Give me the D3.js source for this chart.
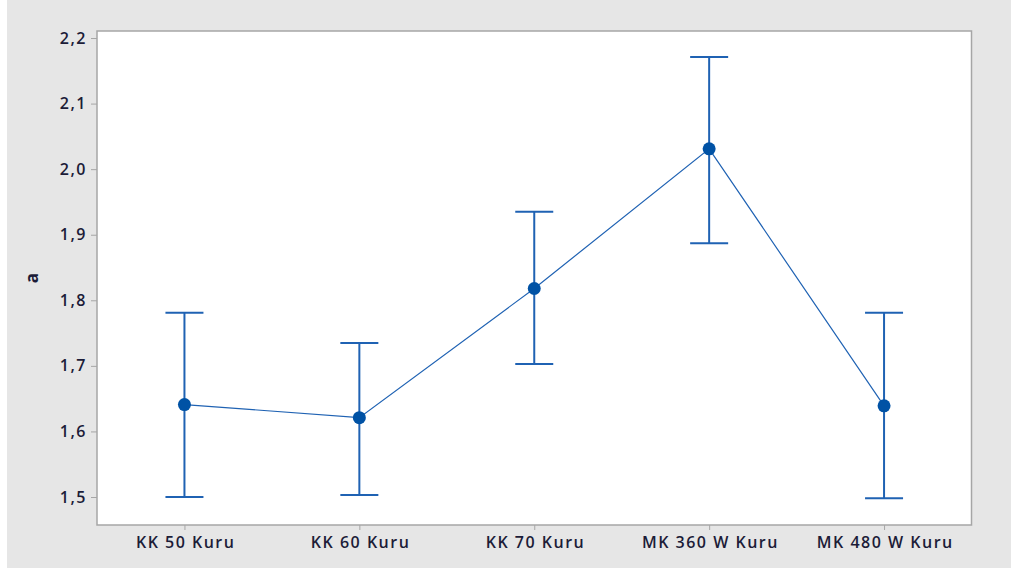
<!DOCTYPE html>
<html><head><meta charset="utf-8">
<script src="https://cdn.jsdelivr.net/npm/d3@7"></script>
<style>body{margin:0;background:#fff}svg{display:block}</style>
</head><body>
<svg id="c" width="1011" height="572"></svg>
<script>
const categories = ["KK 50 Kuru","KK 60 Kuru","KK 70 Kuru","MK 360 W Kuru","MK 480 W Kuru"];
const means = [1.641, 1.621, 1.818, 2.031, 1.639];
const upper = [1.781, 1.735, 1.935, 2.171, 1.781];
const lower = [1.500, 1.503, 1.703, 1.887, 1.498];
const yTicks = [1.5,1.6,1.7,1.8,1.9,2.0,2.1,2.2];
const yLabel = "a";

const svg = d3.select("#c");
const L=97,R=971.5,T=31,B=525;
svg.append("rect").attr("x",7).attr("y",0).attr("width",1004).attr("height",568).attr("fill","#e6e6e6");
svg.append("rect").attr("x",L).attr("y",T).attr("width",R-L).attr("height",B-T).attr("fill","#fff").attr("stroke","#a6a6a6").attr("stroke-width",1.5);

const x = d3.scalePoint().domain(categories).range([L,R]).padding(0.5);
const y = d3.scaleLinear().domain([1.4573,2.2107]).range([B,T]);
const fmt = d => d.toFixed(1).replace(".",",");
const font = "'Open Sans', sans-serif";

const ya = svg.append("g").attr("transform",`translate(${L},0)`)
  .call(d3.axisLeft(y).tickValues(yTicks).tickFormat(fmt).tickSize(6).tickPadding(4));
const xa = svg.append("g").attr("transform",`translate(0,${B})`)
  .call(d3.axisBottom(x).tickSize(5).tickPadding(7));
[ya,xa].forEach(a=>{
  a.select(".domain").remove();
  a.selectAll(".tick line").attr("stroke","#a6a6a6");
  a.selectAll(".tick text").attr("fill","#1c1c38").style("font-family",font).style("font-size","16px").style("font-weight","600").style("letter-spacing","1.5px");
});
xa.selectAll(".tick text").attr("dx","0.75px");

svg.append("text").attr("transform","translate(38,278) rotate(-90)").attr("text-anchor","middle")
  .attr("fill","#1c1c38").style("font-family",font).style("font-size","17px").style("font-weight","700").text(yLabel);

const data = categories.map((c,i)=>({c,m:means[i],u:upper[i],l:lower[i]}));
const col="#1f62b3";
svg.append("path").datum(data).attr("fill","none").attr("stroke",col).attr("stroke-width",1.2)
  .attr("d",d3.line().x(d=>x(d.c)).y(d=>y(d.m)));
const g = svg.append("g");
data.forEach(d=>{
  const cx=x(d.c);
  g.append("line").attr("x1",cx).attr("x2",cx).attr("y1",y(d.u)).attr("y2",y(d.l)).attr("stroke",col).attr("stroke-width",2);
  [d.u,d.l].forEach(v=>g.append("line").attr("x1",cx-19).attr("x2",cx+19).attr("y1",y(v)).attr("y2",y(v)).attr("stroke",col).attr("stroke-width",2));
  g.append("circle").attr("cx",cx).attr("cy",y(d.m)).attr("r",6.5).attr("fill","#0052a5");
});
</script>
</body></html>
